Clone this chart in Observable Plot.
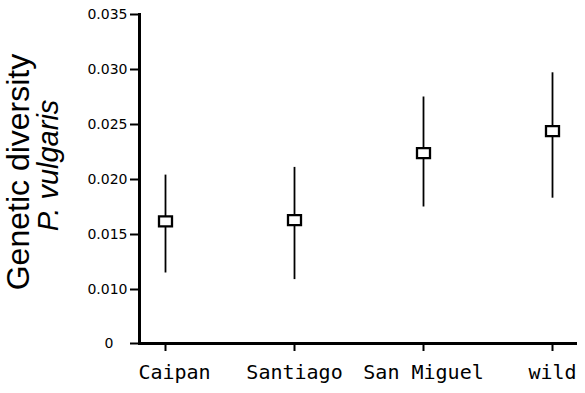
<!DOCTYPE html>
<html>
<head>
<meta charset="utf-8">
<script src="https://cdn.jsdelivr.net/npm/d3@7"></script>
<script src="https://cdn.jsdelivr.net/npm/@observablehq/plot@0.6"></script>
<style>
  html, body { margin: 0; padding: 0; background: white; }
</style>
</head>
<body>
<div id="chart"></div>
<script>
// Data
const sites = ["Caipan", "Santiago", "San Miguel", "wild"];
const means = [0.0162, 0.0163, 0.0224, 0.0244];
const upper = [0.0204, 0.0211, 0.0275, 0.0297];
const lower = [0.0115, 0.0109, 0.0175, 0.0183];
const yTicks = [0, 0.010, 0.015, 0.020, 0.025, 0.030, 0.035];
const yTitle = "Genetic diversity";
const ySpecies = "P. vulgaris";

const rows = sites.map((s, i) => ({site: s, mean: means[i], lo: lower[i], hi: upper[i]}));

// box-shaped marker (wider than tall)
const boxSymbol = {
  draw(context) {
    context.moveTo(-6.5, -5);
    context.lineTo(6.5, -5);
    context.lineTo(6.5, 5);
    context.lineTo(-6.5, 5);
    context.closePath();
  }
};

const fmt = d3.format(".3f");
const tickFont = "DejaVu Sans, Verdana, sans-serif";
const catFont = "DejaVu Sans Mono, monospace";
const titleFont = "Liberation Sans, Arial, Helvetica, sans-serif";

const chart = Plot.plot({
  width: 585,
  height: 393,
  marginLeft: 139,
  marginRight: 8,
  marginTop: 14,
  marginBottom: 50,
  style: {background: "white", color: "black"},
  x: {type: "point", domain: sites, padding: 0.19},
  y: {type: "linear", domain: [0, 0.010, 0.035], range: [343, 289, 14]},
  marks: [
    Plot.frame({anchor: "left", stroke: "black", strokeWidth: 3}),
    Plot.ruleY([0], {stroke: "black", strokeWidth: 3}),
    Plot.axisY({
      ticks: yTicks, tickSize: 9, tickPadding: 3, strokeWidth: 2,
      tickFormat: d => d === 0 ? "" : fmt(d),
      fontSize: 14, fontFamily: tickFont, label: null
    }),
    Plot.axisY({
      ticks: [0], tickSize: 0, tickPadding: 12, dx: -14,
      tickFormat: d => "0",
      fontSize: 14, fontFamily: tickFont, label: null
    }),
    Plot.axisX({
      tickSize: 8, tickPadding: 13, strokeWidth: 2,
      tickFormat: d => d === "Caipan" ? "" : d,
      fontSize: 20, fontFamily: catFont, label: null
    }),
    Plot.axisX({
      ticks: ["Caipan"], tickSize: 0, tickPadding: 21, dx: 9,
      fontSize: 20, fontFamily: catFont, label: null
    }),
    Plot.ruleX(rows, {x: "site", y1: "lo", y2: "hi", stroke: "black", strokeWidth: 1.8}),
    Plot.dot(rows, {x: "site", y: "mean", symbol: boxSymbol, fill: "white", stroke: "black", strokeWidth: 2.3}),
    Plot.text([yTitle], {
      frameAnchor: "left", text: d => d, rotate: -90, dx: -111, dy: -7,
      textAnchor: "middle", lineAnchor: "bottom",
      fontSize: 32, fontFamily: titleFont, fill: "black"
    }),
    Plot.text([ySpecies], {
      frameAnchor: "left", text: d => d, rotate: -90, dx: -82, dy: -13.5,
      textAnchor: "middle", lineAnchor: "bottom",
      fontSize: 29, fontStyle: "italic", fontFamily: titleFont, fill: "black"
    })
  ]
});

document.getElementById("chart").append(chart);
</script>
</body>
</html>
